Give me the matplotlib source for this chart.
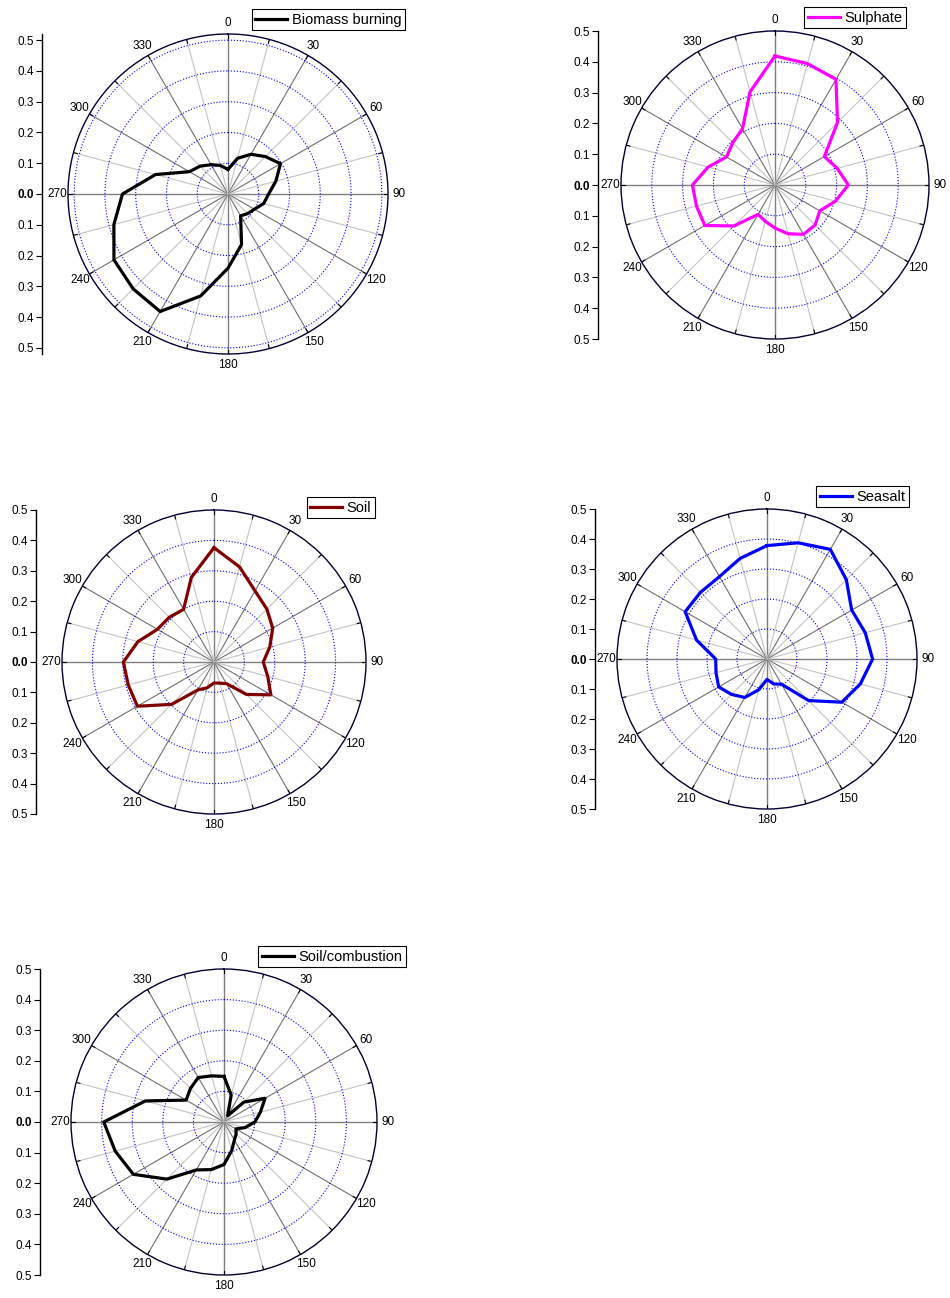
import numpy as np
import matplotlib.pyplot as plt

plt.rcParams['font.family'] = ['Liberation Sans', 'DejaVu Sans']

W, H = 950, 1298

# направления, градусы (по часовой от севера)
angles = list(range(0, 360, 15))

biomass = [0.080, 0.120, 0.149, 0.172, 0.197, 0.161, 0.132, 0.120, 0.099, 0.090, 0.082, 0.170,
           0.241, 0.343, 0.441, 0.436, 0.428, 0.384, 0.343, 0.244, 0.145, 0.128, 0.110, 0.096]
sulphate = [0.419, 0.408, 0.396, 0.287, 0.185, 0.209, 0.238, 0.203, 0.168, 0.184, 0.185, 0.164,
            0.140, 0.122, 0.110, 0.188, 0.263, 0.264, 0.268, 0.225, 0.182, 0.194, 0.211, 0.313]
soil = [0.376, 0.324, 0.270, 0.246, 0.223, 0.190, 0.162, 0.183, 0.216, 0.151, 0.082, 0.072,
        0.069, 0.088, 0.106, 0.197, 0.291, 0.292, 0.298, 0.259, 0.215, 0.208, 0.200, 0.288]
seasalt = [0.378, 0.401, 0.422, 0.374, 0.326, 0.339, 0.352, 0.322, 0.288, 0.196, 0.097, 0.086,
           0.068, 0.106, 0.148, 0.167, 0.186, 0.176, 0.171, 0.243, 0.315, 0.314, 0.317, 0.347]
soil_comb = [0.149, 0.091, 0.024, 0.092, 0.155, 0.123, 0.101, 0.071, 0.045, 0.056, 0.068, 0.097,
             0.139, 0.161, 0.181, 0.264, 0.342, 0.368, 0.393, 0.266, 0.143, 0.155, 0.168, 0.156]

names = ['Biomass burning', 'Sulphate', 'Soil', 'Seasalt', 'Soil/combustion']
colors = ['black', '#ff00ff', '#800000', '#0000ff', 'black']
series = [biomass, sulphate, soil, seasalt, soil_comb]
r_max = [0.52, 0.5, 0.5, 0.5, 0.5]
r_circles = [[0.1, 0.2, 0.3, 0.4, 0.5], [0.1, 0.2, 0.3, 0.4], [0.1, 0.2, 0.3, 0.4],
             [0.1, 0.2, 0.3, 0.4], [0.1, 0.2, 0.3, 0.4]]

# положение панелей в пикселях: центр, радиус, x левой оси, правый верх легенды
centers = [(228, 194), (775, 185), (214, 662), (767, 659), (224, 1122)]
radii = [160, 154, 152, 150, 153]
axis_x = [42, 598, 36, 595, 40]
legend_pos = [(405, 9), (906, 7), (375, 497), (909, 486), (406, 946)]

fig = plt.figure(figsize=(W / 100, H / 100), dpi=100)

for i in range(5):
    cx, cy = centers[i]
    R = radii[i]
    rm = r_max[i]
    ax = fig.add_axes([(cx - R) / W, (H - cy - R) / H, 2 * R / W, 2 * R / H], projection='polar')
    ax.set_theta_zero_location('N')
    ax.set_theta_direction(-1)
    ax.set_ylim(0, rm)
    ax.grid(False)
    ax.set_yticks([])
    ax.set_thetagrids(range(0, 360, 30), [str(a) for a in range(0, 360, 30)], fontsize=8.5)
    ax.tick_params(axis='x', pad=1, length=0)
    ax.spines['polar'].set_color('#000033')
    ax.spines['polar'].set_linewidth(1.0)

    # радиальные линии сетки
    for a in angles:
        th = np.deg2rad(a)
        if a % 90 == 0:
            c, lw = '#808080', 1.0
        elif a % 30 == 0:
            c, lw = '#707070', 0.8
        else:
            c, lw = '#c4c4c4', 0.8
        ax.plot([th, th], [0, rm], color=c, lw=lw, zorder=1)
        ax.plot([th, th], [rm * 0.975, rm], color='black', lw=0.8, zorder=2)

    # синие окружности
    t = np.linspace(0, 2 * np.pi, 361)
    for rc in r_circles[i]:
        ax.plot(t, np.full_like(t, rc), color='blue', lw=0.8, ls=':', zorder=2)

    th = np.deg2rad(angles + [angles[0]])
    vals = series[i] + [series[i][0]]
    ax.plot(th, vals, color=colors[i], lw=2.3, zorder=5, label=names[i])

    lx, ly = legend_pos[i]
    leg = ax.legend(loc='upper right', bbox_to_anchor=(lx / W, 1 - ly / H),
                    bbox_transform=fig.transFigure, borderaxespad=0, fontsize=10.5,
                    fancybox=False, framealpha=1, edgecolor='black', handlelength=2.2,
                    handletextpad=0.3, borderpad=0.25)
    leg.get_frame().set_linewidth(0.8)

    # левая вертикальная шкала
    lax = fig.add_axes([axis_x[i] / W, (H - cy - R) / H, 0.02, 2 * R / H])
    lax.set_ylim(-rm, rm)
    lax.patch.set_visible(False)
    for s in ['top', 'right', 'bottom']:
        lax.spines[s].set_visible(False)
    lax.spines['left'].set_linewidth(1.0)
    lax.set_xticks([])
    ticks = [round(v, 1) for v in np.arange(-0.5, 0.51, 0.1)]
    lax.set_yticks(ticks)
    lax.set_yticklabels([f'{abs(v):.1f}' for v in ticks], fontsize=8.5)
    lax.tick_params(axis='y', length=4, width=0.8, pad=2)
    for lab in lax.get_yticklabels():
        if lab.get_text() == '0.0':
            lab.set_fontweight('bold')

fig.savefig('out.png', dpi=100)
